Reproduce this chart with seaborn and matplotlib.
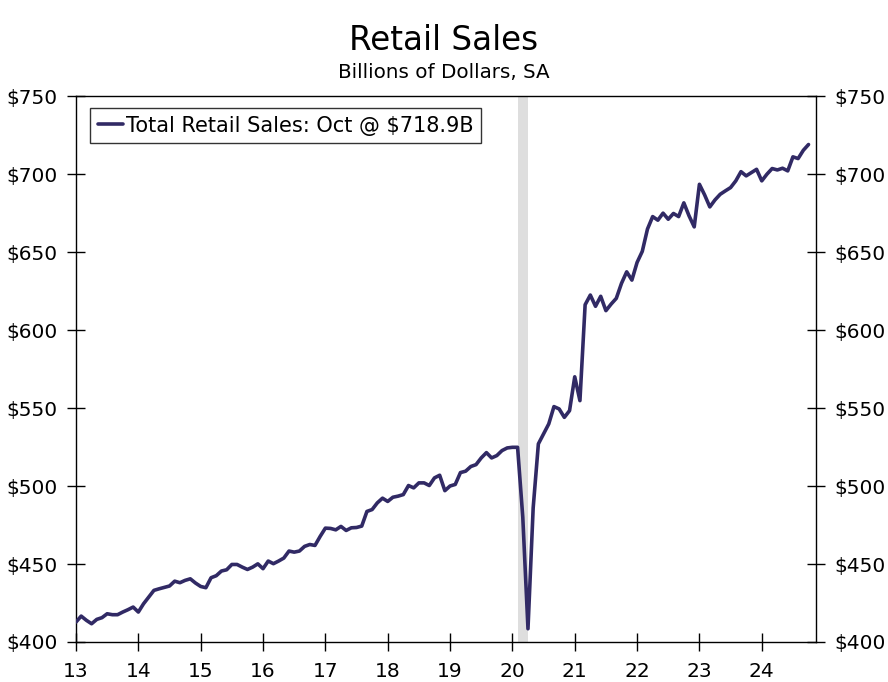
import numpy as np
import pandas as pd
import matplotlib
matplotlib.use("Agg")
import matplotlib.pyplot as plt
import seaborn as sns
from matplotlib.ticker import FuncFormatter, FixedLocator

# ---- data (billions of dollars, SA), monthly from Jan 2013 ----
sales_2013 = [412.8, 416.6, 413.9, 411.7, 414.5, 415.6, 418.1, 417.5, 417.5, 419.2, 420.7, 422.4]
sales_2014 = [419.2, 424.5, 428.8, 433.1, 434.1, 435.0, 435.9, 439.0, 438.0, 439.5, 440.5, 437.8]
sales_2015 = [435.6, 434.8, 441.2, 442.5, 445.5, 446.3, 449.7, 449.7, 448.0, 446.5, 448.0, 450.1]
sales_2016 = [447.0, 451.9, 450.2, 451.9, 453.8, 458.3, 457.6, 458.3, 461.3, 462.5, 461.9, 467.7]
sales_2017 = [473.0, 472.8, 471.9, 474.1, 471.5, 473.2, 473.4, 474.3, 483.7, 484.9, 489.2, 492.2]
sales_2018 = [490.1, 492.8, 493.5, 494.5, 500.3, 498.8, 502.0, 502.0, 500.3, 505.2, 506.9, 497.0]
sales_2019 = [500.0, 501.0, 508.6, 509.5, 512.5, 513.7, 518.0, 521.4, 518.0, 519.5, 522.7, 524.4]
sales_2020 = [524.8, 524.8, 480.0, 408.5, 486.0, 527.0, 533.4, 539.8, 550.9, 549.4, 544.0, 548.3]
sales_2021 = [570.0, 554.7, 616.2, 622.4, 615.2, 621.6, 612.4, 616.6, 620.3, 629.9, 637.3, 632.0]
sales_2022 = [643.3, 650.4, 664.7, 672.7, 670.4, 674.9, 671.0, 674.7, 672.7, 681.5, 673.2, 666.1]
sales_2023 = [693.4, 686.6, 678.9, 683.4, 687.0, 689.2, 691.3, 695.6, 701.5, 698.8, 700.9, 703.0]
sales_2024 = [695.6, 699.9, 703.5, 702.6, 703.7, 702.0, 711.0, 709.9, 715.2, 718.9]

start_month = "2013-01-01"
recession_start = "2020-02-01"
recession_end = "2020-04-01"
year_ticks = list(range(13, 25))
y_ticks = [400, 450, 500, 550, 600, 650, 700, 750]
series_label = "Total Retail Sales: Oct @ $718.9B"
title = "Retail Sales"
subtitle = "Billions of Dollars, SA"

values = (sales_2013 + sales_2014 + sales_2015 + sales_2016 + sales_2017 + sales_2018
          + sales_2019 + sales_2020 + sales_2021 + sales_2022 + sales_2023 + sales_2024)
dates = pd.date_range(start_month, periods=len(values), freq="MS")


def to_x(d):
    d = pd.Timestamp(d)
    return d.year - 2000 + (d.month - 1) / 12.0


df = pd.DataFrame({"x": [to_x(d) for d in dates], "sales": values})

sns.set_theme(style="white")
plt.rcParams["font.family"] = ["DejaVu Sans"]
plt.rcParams["text.color"] = "black"

fig = plt.figure(figsize=(8.88, 6.82), dpi=100)
ax = fig.add_axes([76 / 888, 40 / 682, 740 / 888, 546 / 682])

line_color = "#312a65"
ax.axvspan(to_x(recession_start), to_x(recession_end), color="#dedede", lw=0, zorder=0)
sns.lineplot(data=df, x="x", y="sales", ax=ax, color=line_color, linewidth=2.6,
             label=series_label, zorder=3)

ax.set_xlim(13, 24.87)
ax.set_ylim(400, 750)
ax.xaxis.set_major_locator(FixedLocator(year_ticks))
ax.set_xticklabels([str(t) for t in year_ticks])
ax.yaxis.set_major_locator(FixedLocator(y_ticks))
ax.yaxis.set_major_formatter(FuncFormatter(lambda v, p: f"${v:.0f}"))
ax.set_xlabel("")
ax.set_ylabel("")

for s in ax.spines.values():
    s.set_visible(True)
    s.set_color("black")
    s.set_linewidth(1.0)

ax.tick_params(axis="both", direction="inout", length=13, width=1, color="black",
               labelsize=14.5, labelcolor="black")
ax.tick_params(axis="y", left=True, right=True, labelleft=True, labelright=True, pad=7)
ax.tick_params(axis="x", bottom=True, top=False, pad=8)

leg = ax.legend(loc="upper left", bbox_to_anchor=(14 / 740, 1 - 12 / 546), frameon=True,
                fancybox=False, edgecolor="black", fontsize=15.0, handlelength=1.2,
                handletextpad=0.15, borderpad=0.36, borderaxespad=0.0,
                labelcolor="black")
leg.get_frame().set_linewidth(1.0)

fig.text(0.5, 0.941, title, ha="center", va="center", fontsize=23.5, color="black")
fig.text(0.5, 0.894, subtitle, ha="center", va="center", fontsize=14.3, color="black")

fig.savefig("out.png", dpi=100)
